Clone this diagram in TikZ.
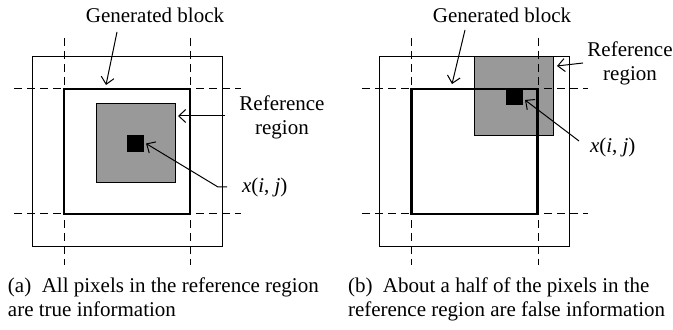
\documentclass[tikz,border=0pt]{standalone}
\usepackage{fontspec}
\setmainfont{Liberation Serif}
\usetikzlibrary{arrows.meta}

\begin{document}
\begin{tikzpicture}[x=0.5pt, y=-0.5pt, font=\fontsize{10.5}{10.5}\selectfont,
    every node/.style={inner sep=0pt, outer sep=0pt},
    thinbox/.style={draw, line width=0.5pt, minimum size=95pt},
    thickbox/.style={draw, line width=1.3pt, minimum width=63pt, minimum height=62.5pt},
    refbox/.style={draw, fill=gray!80, line width=0.5pt, minimum size=39.5pt},
    pixel/.style={draw, fill=black, minimum size=8pt},
    grid/.style={dashed, dash pattern=on 4pt off 2.5pt, line width=0.5pt},
    arr/.style={-{Straight Barb[length=3.5pt, width=6.5pt]}, line width=0.5pt},
    label/.style={align=center}]
    \useasboundingbox (0,0) rectangle (673,330);

    % (a) reference region inside the block
    \node[thinbox] (outa) at (127,152) {};
    \node[thickbox] (blka) at (127,151.5) {};
    \node[refbox] (gra) at (135.5,143.5) {};
    \node[pixel] (pixa) at (135,143.5) {};
    \draw[grid] (64,38) -- (64,265);
    \draw[grid] (190,38) -- (190,265);
    \draw[grid] (14,89) -- (241,89);
    \draw[grid] (14,214) -- (241,214);

    \node[label] (gena) at (155,15) {Generated block};
    \node[label] (refa) at (282,117) {Reference\\[1.5pt]region};
    \node[anchor=west] (xa) at (242,187) {\textit{x}(\textit{i}, \textit{j})};
    \coordinate (ga) at (106,85);
    \coordinate (ra) at (178,116);
    \draw[arr] (117,32) -- (ga);
    \draw[arr] ([xshift=-7pt]refa.west |- ra) -- (ra);
    \draw[arr] ([xshift=-7.5pt]xa.west) -- ++(-4.5pt,0) -- ([xshift=1.5pt]pixa.east);

    % (b) reference region on the block corner
    \node[thinbox] (outb) at (474.5,152) {};
    \node[refbox] (grb) at (513.5,96.5) {};
    \node[thickbox] (blkb) at (474.5,151.5) {};
    \node[pixel] (pixb) at (514,96.5) {};
    \draw[grid] (411,38) -- (411,265);
    \draw[grid] (538,38) -- (538,265);
    \draw[grid] (362,89) -- (588,89);
    \draw[grid] (362,214) -- (588,214);

    \node[label] (genb) at (502,15) {Generated block};
    \node[label] (refb) at (630,63) {Reference\\[1.5pt]region};
    \node[anchor=west] (xb) at (590,147) {\textit{x}(\textit{i}, \textit{j})};
    \coordinate (gb) at (452,84);
    \coordinate (rb) at (557,66);
    \coordinate (pb) at (525,100);
    \draw[arr] (465,30) -- (gb);
    \draw[arr] (583,63) -- (rb);
    \draw[arr] (579,141) -- (pb);

    % captions
    \node[anchor=north west, align=left] (capa) at (8,278)
        {(a)\ \ All pixels in the reference region\\[1.5pt]are true information};
    \node[anchor=north west, align=left] (capb) at (348,278)
        {(b)\ \ About a half of the pixels in the\\[1.5pt]reference region are false information};
\end{tikzpicture}
\end{document}
